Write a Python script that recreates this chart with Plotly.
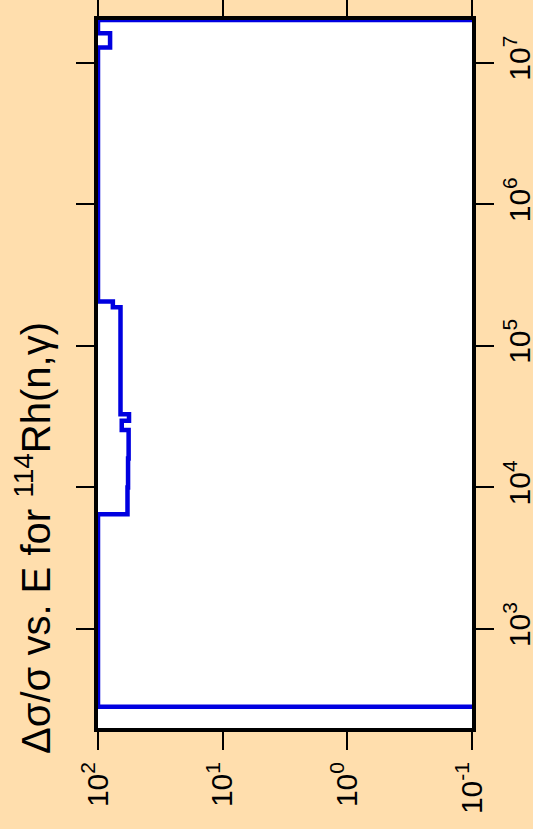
import math
import plotly.graph_objects as go

# NOTE: lower edge of each energy bin (eV) and the relative uncertainty (%) in that bin
energy_ev = [100, 282, 6470, 1.0e4, 1.6e4, 2.54e4, 2.96e4, 3.29e4,
             1.87e5, 2.06e5, 1.28e7, 1.61e7, 2.0e7, 4.0e7]
rel_unc_pct = [0.001, 100, 58.0, 57.4, 56.8, 64.5, 56.4, 66.0,
               76.0, 100, 80.0, 100, 0.001, 0.001]

# NOTE: tick positions and labels
unc_ticks = [100, 10, 1, 0.1]
unc_labels = ["10<sup>2</sup>", "10<sup>1</sup>", "10<sup>0</sup>", "10<sup>-1</sup>"]
e_ticks = [1e3, 1e4, 1e5, 1e6, 1e7]
e_labels = ["10<sup>3</sup>", "10<sup>4</sup>", "10<sup>5</sup>",
            "10<sup>6</sup>", "10<sup>7</sup>"]

title_text = "Δσ/σ vs. E for <sup>114</sup>Rh(n,γ)"

font = "Liberation Sans, Arial, sans-serif"
bg = "#FFDEAD"

fig = go.Figure(go.Scatter(x=rel_unc_pct, y=energy_ev, mode="lines",
                           line=dict(color="#0000E0", width=4.5, shape="vh"),
                           hoverinfo="skip"))

axis_style = dict(type="log", ticks="outside", ticklen=18, tickwidth=2,
                  tickcolor="black", showline=True, linewidth=4,
                  linecolor="black", mirror="ticks", tickangle=-90,
                  showgrid=False, zeroline=False, automargin=False,
                  tickfont=dict(family=font, size=30, color="black"))

fig.update_xaxes(range=[2, -1], tickvals=unc_ticks, ticktext=unc_labels,
                 **axis_style)
fig.update_yaxes(range=[math.log10(200), math.log10(2e7)], side="right",
                 tickvals=e_ticks, ticktext=e_labels, **axis_style)

# NOTE: rotated title on the left side
fig.add_annotation(text=title_text, textangle=-90, showarrow=False,
                   xref="paper", yref="paper", x=-0.172, y=0.268,
                   xanchor="center", yanchor="middle",
                   font=dict(family=font, size=40, color="black"))

fig.update_layout(width=533, height=829, showlegend=False,
                  paper_bgcolor=bg, plot_bgcolor="white",
                  margin=dict(l=98, r=61, t=20, b=101))

# NOTE: drop the default page margin so the figure sits at the window corner
fig.write_html("out.html", config={"displayModeBar": False},
               post_script="document.body.style.margin='0';"
                           "document.body.style.background='%s';" % bg)
